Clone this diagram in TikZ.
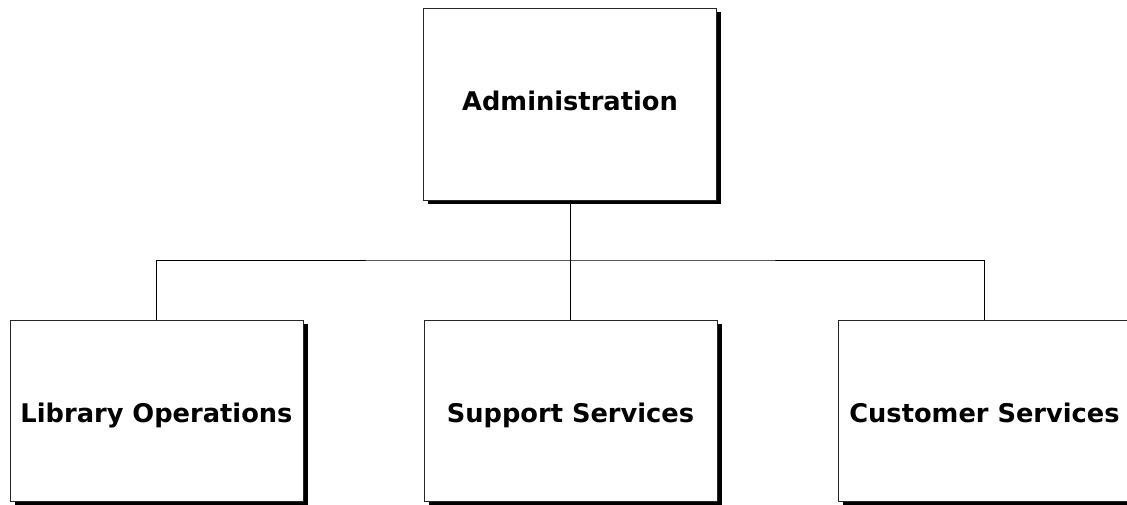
\documentclass[tikz,border=0pt]{standalone}
\usepackage{fontspec}
\setmainfont{DejaVu Sans}
\usetikzlibrary{positioning,shadows}

\begin{document}
\begin{tikzpicture}[
		x=1pt,
		y=-1pt,
		line cap=rect,
		line join=miter,
		unit/.style={
			draw=black!85,
			line width=0.9pt,
			fill=white,
			inner sep=0pt,
			minimum width=293pt,
			text height=23pt,
			text depth=0pt,
			font=\fontsize{25.7}{30}\selectfont\bfseries,
			drop shadow={shadow xshift=4.5pt,shadow yshift=-4pt,fill=black,opacity=1}
		},
		link/.style={
			draw=black,
			line width=1pt
		}
		]
		
		% frame
		\useasboundingbox (0,0) rectangle (1127,504);
		
		% head unit
		\node[unit,minimum height=192pt,text height=18pt,text depth=4.6pt] (admin) at (570,104) {Administration};
		
		% departments
		\node[unit,minimum height=181pt] (supp) at (570.5,410.5) {Support Services};
		\node[unit,minimum height=181pt] (lib)  at (156.5,410.5) {Library Operations};
		\node[unit,minimum height=181pt] (cust) at (984.5,410.5) {Customer Services};
		
		% branch point
		\coordinate (bus) at (570.5,260);
		
		% connectors
		\draw[link] (admin.south) -- (admin.south |- bus);
		\draw[link] (lib.north) |- (bus) -| (cust.north);
		\draw[link] (bus) -- (supp.north);
	\end{tikzpicture}
\end{document}
